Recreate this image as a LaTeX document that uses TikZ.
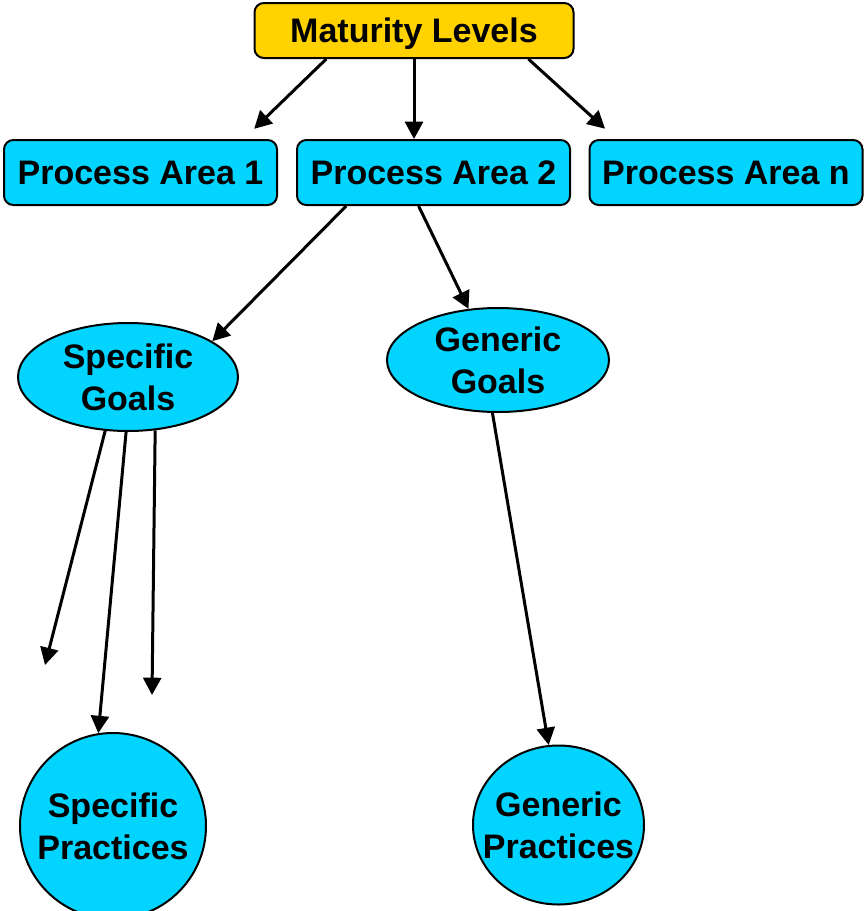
\documentclass[tikz,border=0pt]{standalone}
\usepackage{fontspec}
\setmainfont{Liberation Sans}
\usetikzlibrary{shapes.geometric,arrows.meta}
\definecolor{boxcyan}{RGB}{0,212,255}
\definecolor{boxgold}{RGB}{255,210,0}

\begin{document}
\begin{tikzpicture}[x=0.75pt,y=-0.75pt,
	txt/.style={font=\fontsize{25.5}{31.5}\selectfont\bfseries,align=center,inner sep=0pt},
	areabox/.style={txt,draw=black,line width=1.5pt,fill=boxcyan,rounded corners=7pt,minimum width=204.75pt,minimum height=48.75pt},
	goal/.style={ellipse,draw=black,line width=1.5pt,fill=boxcyan,inner sep=0pt,label={[txt]center:#1}},
	arr/.style={line width=2.25pt,-{Triangle[length=13pt,width=13.5pt]}}]
	\useasboundingbox (0,0) rectangle (865,911);
	\node[txt,text depth=0pt,draw=black,line width=1.5pt,fill=boxgold,rounded corners=7pt,minimum width=239.25pt,minimum height=41.25pt] (ml) at (414,30.5) {Maturity Levels};
	\node[areabox] (pa1) at (140.5,172.5) {Process Area 1};
	\node[areabox] (pa2) at (433.5,172.5) {Process Area 2};
	\node[areabox] (pan) at (726,172.5) {Process Area n};
	\node[goal={Specific\\Goals},minimum width=165pt,minimum height=81pt] (sg) at (128,377) {};
	\node[goal={Generic\\Goals},minimum width=166.5pt,minimum height=78pt] (gg) at (498,360) {};
	\node[goal={Specific\\Practices},minimum width=139.5pt,minimum height=139.5pt] (sp) at (113,826) {};
	\node[goal={Generic\\Practices},minimum width=128.25pt,minimum height=119.25pt] (gp) at (558.5,825) {};
	\coordinate (sga) at (45,665);
	\coordinate (sgc) at (152,695);
	\draw[arr,shorten >=11pt] (ml.198) -- (pa1.18);
	\draw[arr] (ml.south) -- (ml.south |- pa2.north);
	\draw[arr,shorten >=11.5pt] (ml.-14) -- (pan.163);
	\draw[arr] (pa2.201) -- (sg.23);
	\draw[arr] (pa2.246) -- (gg.120);
	\draw[arr] (sg.-113) -- (sga);
	\draw[arr] (sg.-92) -- (sp.99);
	\draw[arr] (sg.-63) -- (sgc);
	\draw[arr] (gg.-96) -- (gp.97);
\end{tikzpicture}
\end{document}
